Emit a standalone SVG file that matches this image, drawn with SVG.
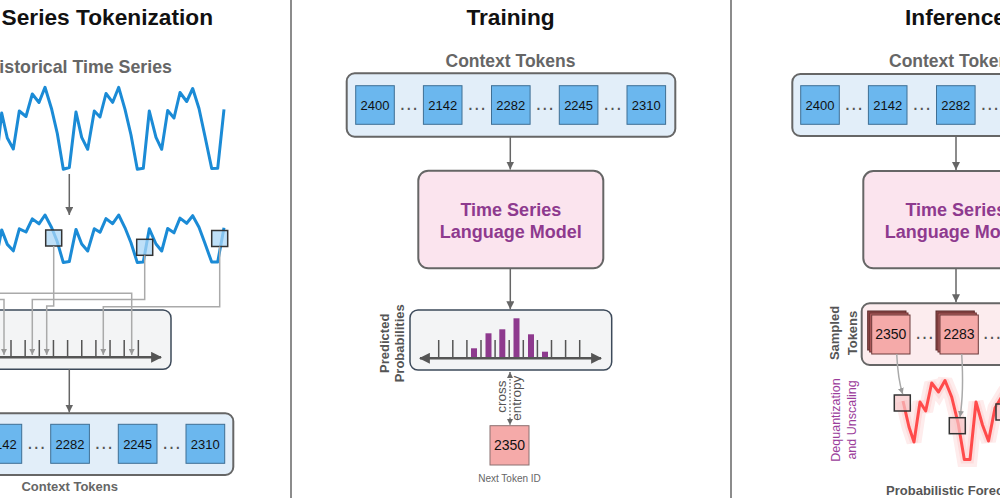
<svg xmlns="http://www.w3.org/2000/svg" width="1000" height="500" viewBox="0 0 1000 500">
<style>
text{font-family:"Liberation Sans",Arial,sans-serif}
.title{font-size:22.7px;font-weight:bold;fill:#111}
.sub{font-size:17.5px;font-weight:bold;fill:#666}
.lbl{font-size:13px;font-weight:bold;fill:#666}
.rot{font-size:13px;font-weight:bold;fill:#555}
.tok{font-size:13px;fill:#111;text-anchor:middle}
.dots{font-size:20px;fill:#555;text-anchor:middle}
.btok{fill:#6bb7ee;stroke:#3f6f94;stroke-width:1}
.ptok{fill:#f5aaa9;stroke:#6b3a3a;stroke-width:1}
.ctx{fill:#e2eef9;stroke:#666;stroke-width:2}
.lm{fill:#fbe4ee;stroke:#666;stroke-width:2}
.bin{fill:#f3f4f5;stroke:#3d4a5a;stroke-width:1.5}
.lmt{font-size:18px;font-weight:bold;fill:#8e3a8e;text-anchor:middle}
.arr{stroke:#666;stroke-width:1.5;fill:none;marker-end:url(#ah)}
.gl{stroke:#aaa;stroke-width:1.5;fill:none;marker-end:url(#gh)}
.tick{stroke:#555;stroke-width:1.5}
.axis{stroke:#555;stroke-width:2.5;fill:none}
.ser{stroke:#1b8bd6;stroke-width:3;fill:none;stroke-linejoin:round}
.sq{fill:#a9d6f5;fill-opacity:0.75;stroke:#333;stroke-width:1.5}
.rsq{fill:#f7c4c6;fill-opacity:0.7;stroke:#333;stroke-width:1.5}
.bar{fill:#8e3a8e}
.div{stroke:#666;stroke-width:1.5}
</style>
<defs>
<marker id="ah" viewBox="0 0 10 10" refX="10" refY="5" markerWidth="8" markerHeight="8" markerUnits="userSpaceOnUse" orient="auto-start-reverse"><path d="M0,0 L10,5 L0,10 z" fill="#666"/></marker>
<marker id="gh" viewBox="0 0 10 10" refX="10" refY="5" markerWidth="6" markerHeight="6" markerUnits="userSpaceOnUse" orient="auto"><path d="M0,0 L10,5 L0,10 z" fill="#999"/></marker>
<marker id="sh" viewBox="0 0 10 10" refX="10" refY="5" markerWidth="6" markerHeight="6" markerUnits="userSpaceOnUse" orient="auto-start-reverse"><path d="M0,0 L10,5 L0,10 z" fill="#666"/></marker>
<marker id="xh" viewBox="0 0 10 10" refX="9" refY="5" markerWidth="11" markerHeight="11" markerUnits="userSpaceOnUse" orient="auto-start-reverse"><path d="M0,0 L10,5 L0,10 z" fill="#555"/></marker>
</defs>
<rect width="1000" height="500" fill="#fff"/>

<g id="dividers">
<line class="div" x1="291" y1="0" x2="291" y2="498"/>
<line class="div" x1="731" y1="0" x2="731" y2="498"/>
</g>

<!-- Left panel -->
<g id="title-tokenization"><text class="title" x="213" y="25" text-anchor="end">Time Series Tokenization</text></g>
<g id="historical-series">
<text class="sub" x="172" y="73" text-anchor="end" style="font-size:17.8px">Historical Time Series</text>
<polyline class="ser" points="-4.4,167 1.7,113 7.3,138 13.3,149 19.3,111 26,116.5 32.3,94 39,102.5 45,87.3 51.7,109.3 57.3,133.5 63.3,169.3 69.3,167.5 76,112 81.7,137.3 87.7,149.3 94.3,111 100,117 106,93.5 112.7,102.3 118.7,87.3 125,109.3 131,135 137.3,169.3 143.3,168.3 149.3,111 156,137.3 161.7,149.3 167.7,110.5 174,118 180,92.5 186.7,101.5 192.7,88.5 199,108.5 205,136.5 211.7,168.5 217.7,168.3 224,109.3"/>
</g>
<g id="quantized-series">
<polyline class="ser" points="-4.4,261.3 1.7,229.9 7.3,244.4 13.3,250.8 19.3,228.8 26,232 32.3,218.9 39,223.8 45,215 51.7,227.8 57.3,241.8 63.3,262.6 69.3,261.6 76,229.4 81.7,244 87.7,251 94.3,228.8 100,232.3 106,218.6 112.7,223.7 118.7,215 125,227.8 131,242.7 137.3,262.6 143.3,262 149.3,228.8 156,244 161.7,251 167.7,228.5 174,232.8 180,218.1 186.7,223.3 192.7,215.7 199,227.3 205,243.6 211.7,262.1 217.7,262 224,227.8"/>
<rect class="sq" x="45.7" y="230" width="16" height="16"/>
<rect class="sq" x="136.7" y="239.3" width="16" height="16"/>
<rect class="sq" x="211.7" y="230.5" width="16" height="16"/>
</g>
<g id="bins">
<rect class="bin" x="-20" y="310" width="191" height="59.3" rx="8"/>
<line class="axis" x1="-10" y1="357.3" x2="161" y2="357.3" marker-end="url(#xh)"/>
<g class="tick">
<line x1="-3.2" y1="340" x2="-3.2" y2="357"/><line x1="11" y1="340" x2="11" y2="357"/><line x1="25.15" y1="340" x2="25.15" y2="357"/><line x1="39.3" y1="340" x2="39.3" y2="357"/><line x1="53.45" y1="340" x2="53.45" y2="357"/><line x1="67.6" y1="340" x2="67.6" y2="357"/><line x1="81.75" y1="340" x2="81.75" y2="357"/><line x1="95.9" y1="340" x2="95.9" y2="357"/><line x1="110.05" y1="340" x2="110.05" y2="357"/><line x1="124.2" y1="340" x2="124.2" y2="357"/><line x1="138.35" y1="340" x2="138.35" y2="357"/>
</g>
</g>
<g id="context-tokens-left">
<rect class="ctx" x="-30" y="413.3" width="263.3" height="61.7" rx="8"/>
<rect class="btok" x="-85" y="424.3" width="38.7" height="39"/><text class="tok" x="-65.6" y="448.5">2400</text>
<rect class="btok" x="-17" y="424.3" width="38.7" height="39"/><text class="tok" x="2.3" y="448.5">2142</text>
<rect class="btok" x="50.7" y="424.3" width="38.7" height="39"/><text class="tok" x="70" y="448.5">2282</text>
<rect class="btok" x="118.3" y="424.3" width="38.7" height="39"/><text class="tok" x="137.6" y="448.5">2245</text>
<rect class="btok" x="186" y="424.3" width="38.7" height="39"/><text class="tok" x="205.3" y="448.5">2310</text>
<text class="dots" x="36.2" y="449">…</text><text class="dots" x="103.8" y="449">…</text><text class="dots" x="171.5" y="449">…</text>
<text class="lbl" x="69.7" y="490.7" text-anchor="middle">Context Tokens</text>
</g>

<!-- Middle panel -->
<g id="title-training"><text class="title" x="510.5" y="25" text-anchor="middle">Training</text></g>
<g id="context-tokens-mid">
<text class="sub" x="510.5" y="67" text-anchor="middle">Context Tokens</text>
<rect class="ctx" x="346.7" y="73.3" width="328.6" height="63.4" rx="8"/>
<rect class="btok" x="355.7" y="85.7" width="38.6" height="38.6"/><text class="tok" x="375" y="109.7">2400</text>
<rect class="btok" x="423.4" y="85.7" width="38.6" height="38.6"/><text class="tok" x="442.7" y="109.7">2142</text>
<rect class="btok" x="491.5" y="85.7" width="38.6" height="38.6"/><text class="tok" x="510.8" y="109.7">2282</text>
<rect class="btok" x="559.3" y="85.7" width="38.6" height="38.6"/><text class="tok" x="578.6" y="109.7">2245</text>
<rect class="btok" x="627" y="85.7" width="38.6" height="38.6"/><text class="tok" x="646.3" y="109.7">2310</text>
<text class="dots" x="408.8" y="110">…</text><text class="dots" x="476.8" y="110">…</text><text class="dots" x="544.7" y="110">…</text><text class="dots" x="612.5" y="110">…</text>
</g>
<g id="lm-mid">
<rect class="lm" x="418.3" y="170.7" width="185" height="97.6" rx="10"/>
<text class="lmt" x="510.8" y="216">Time Series</text>
<text class="lmt" x="510.8" y="238">Language Model</text>
</g>
<g id="predicted-probs">
<rect class="bin" x="410" y="310" width="201.7" height="60" rx="8"/>
<g class="tick">
<line x1="438.7" y1="340" x2="438.7" y2="358"/><line x1="452.8" y1="340" x2="452.8" y2="358"/><line x1="466.9" y1="340" x2="466.9" y2="358"/><line x1="481" y1="340" x2="481" y2="358"/><line x1="495.1" y1="340" x2="495.1" y2="358"/><line x1="509.2" y1="340" x2="509.2" y2="358"/><line x1="523.3" y1="340" x2="523.3" y2="358"/><line x1="537.4" y1="340" x2="537.4" y2="358"/><line x1="551.5" y1="340" x2="551.5" y2="358"/><line x1="565.6" y1="340" x2="565.6" y2="358"/><line x1="579.7" y1="340" x2="579.7" y2="358"/>
</g>
<rect class="bar" x="471" y="348.3" width="6" height="9.7"/>
<rect class="bar" x="485.5" y="333.3" width="6" height="24.7"/>
<rect class="bar" x="499.3" y="329.3" width="6" height="28.7"/>
<rect class="bar" x="513.5" y="318.3" width="6" height="39.7"/>
<rect class="bar" x="528" y="334.3" width="6" height="23.7"/>
<rect class="bar" x="542" y="351.7" width="6" height="6.3"/>
<line class="axis" x1="420" y1="358.3" x2="601" y2="358.3" marker-start="url(#xh)" marker-end="url(#xh)"/>
<text class="rot" transform="translate(389,343.3) rotate(-90)" text-anchor="middle">Predicted</text>
<text class="rot" transform="translate(404,343.3) rotate(-90)" text-anchor="middle">Probabilities</text>
</g>
<g id="next-token">
<rect class="ptok" x="490" y="425.7" width="39" height="39.3" style="stroke:#8a7070"/>
<text class="tok" x="509.5" y="450" style="font-size:14px">2350</text>
<text x="509.5" y="481.7" text-anchor="middle" style="font-size:10px;fill:#666">Next Token ID</text>
</g>
<g id="cross-entropy">
<line x1="510" y1="372" x2="510" y2="425" stroke="#777" stroke-width="1.5" stroke-dasharray="1.5 2" marker-start="url(#sh)" marker-end="url(#sh)"/>
<text transform="translate(505.7,396.7) rotate(-90)" text-anchor="middle" style="font-size:13.5px;fill:#555">cross</text>
<text transform="translate(521,398.3) rotate(-90)" text-anchor="middle" style="font-size:13.5px;fill:#555">entropy</text>
</g>

<!-- Right panel -->
<g id="title-inference"><text class="title" x="905" y="25">Inference</text></g>
<g id="context-tokens-right">
<text class="sub" x="954" y="67" text-anchor="middle">Context Tokens</text>
<rect class="ctx" x="792.3" y="74" width="328.6" height="62" rx="8"/>
<rect class="btok" x="800.7" y="85.7" width="38.6" height="38.6"/><text class="tok" x="820" y="109.7">2400</text>
<rect class="btok" x="868.4" y="85.7" width="38.6" height="38.6"/><text class="tok" x="887.7" y="109.7">2142</text>
<rect class="btok" x="936.5" y="85.7" width="38.6" height="38.6"/><text class="tok" x="955.8" y="109.7">2282</text>
<rect class="btok" x="1004.3" y="85.7" width="38.6" height="38.6"/>
<text class="dots" x="853.8" y="110">…</text><text class="dots" x="921.7" y="110">…</text><text class="dots" x="989.7" y="110">…</text>
</g>
<g id="lm-right">
<rect class="lm" x="863.3" y="171" width="185" height="97.3" rx="10"/>
<text class="lmt" x="955.8" y="216">Time Series</text>
<text class="lmt" x="955.8" y="238">Language Model</text>
</g>
<g id="sampled-tokens">
<rect x="861.7" y="303.3" width="200" height="61.7" rx="8" fill="#fcecee" stroke="#666" stroke-width="2"/>
<rect x="867.7" y="311" width="38.3" height="39" fill="#8f4848" stroke="#5a2a2a" stroke-width="1"/>
<rect x="869.7" y="313" width="38.3" height="39" fill="#b86262" stroke="#6b3030" stroke-width="1"/>
<rect class="ptok" x="871.7" y="315" width="38.3" height="39"/><text class="tok" x="890.8" y="339.3" style="font-size:14px">2350</text>
<rect x="936" y="311" width="38.3" height="39" fill="#8f4848" stroke="#5a2a2a" stroke-width="1"/>
<rect x="938" y="313" width="38.3" height="39" fill="#b86262" stroke="#6b3030" stroke-width="1"/>
<rect class="ptok" x="940" y="315" width="38.3" height="39"/><text class="tok" x="959.1" y="339.3" style="font-size:14px">2283</text>
<rect x="1004.3" y="311" width="38.3" height="39" fill="#8f4848" stroke="#5a2a2a" stroke-width="1"/>
<text class="dots" x="924.5" y="339">…</text><text class="dots" x="992" y="339">…</text>
<text class="rot" transform="translate(839,333) rotate(-90)" text-anchor="middle">Sampled</text>
<text class="rot" transform="translate(856.7,333) rotate(-90)" text-anchor="middle">Tokens</text>
</g>
<g id="forecast">
<polyline points="903,401 909,427 914,442 920,402 925.7,411 931.7,383 938.5,392 945,380.5 951.7,397 958.3,424 964.3,459.5 970,459.5 976,402 982.5,425 988.5,441 995,408 1001,398 1008,405" fill="none" stroke="#feecec" stroke-width="15" stroke-linejoin="miter" stroke-miterlimit="2"/>
<polyline points="903,401 909,427 914,442 920,402 925.7,411 931.7,383 938.5,392 945,380.5 951.7,397 958.3,424 964.3,459.5 970,459.5 976,402 982.5,425 988.5,441 995,408 1001,398 1008,405" fill="none" stroke="#fddcdc" stroke-width="8" stroke-linejoin="miter" stroke-miterlimit="2"/>
<polyline points="903,401 909,427 914,442 920,402 925.7,411 931.7,383 938.5,392 945,380.5 951.7,397 958.3,424 964.3,459.5 970,459.5 976,402 982.5,425 988.5,441 995,408 1001,398 1008,405" fill="none" stroke="#ff4b4b" stroke-width="3" stroke-linejoin="round"/>
<rect class="rsq" x="894.3" y="395" width="16" height="16"/>
<rect class="rsq" x="949.3" y="417.7" width="16" height="16"/>
<rect class="rsq" x="996" y="404" width="16" height="16"/>
<text transform="translate(840,420) rotate(-90)" text-anchor="middle" style="font-size:12.5px;fill:#9b3d9b">Dequantization</text>
<text transform="translate(855.5,420) rotate(-90)" text-anchor="middle" style="font-size:12.5px;fill:#9b3d9b">and Unscaling</text>
<text class="lbl" x="954" y="495" text-anchor="middle" style="fill:#555">Probabilistic Forecast</text>
</g>

<g id="connectors">
<line class="arr" x1="69.3" y1="174" x2="69.3" y2="215"/>
<line class="arr" x1="69.3" y1="369.3" x2="69.3" y2="412.5"/>
<path class="gl" d="M-10,293.3 H131.7 V355"/>
<path class="gl" d="M-10,299.4 H4 V355"/>
<path class="gl" d="M53.7,246 V306 H46.7 V355"/>
<path class="gl" d="M144.7,255.3 V299.4 H32.3 V355"/>
<path class="gl" d="M219.7,246.5 V306.7 H103.3 V355"/>
<line class="arr" x1="510.3" y1="136.7" x2="510.3" y2="169.5"/>
<line class="arr" x1="510.3" y1="268.3" x2="510.3" y2="309.3"/>
<line class="arr" x1="956" y1="136" x2="956" y2="170"/>
<line class="arr" x1="956" y1="268.3" x2="956" y2="302.3"/>
<path class="gl" d="M896.7,354 Q898,380 902.7,394"/>
<path class="gl" d="M961.7,354 Q964,392 960,417"/>
</g>
</svg>
